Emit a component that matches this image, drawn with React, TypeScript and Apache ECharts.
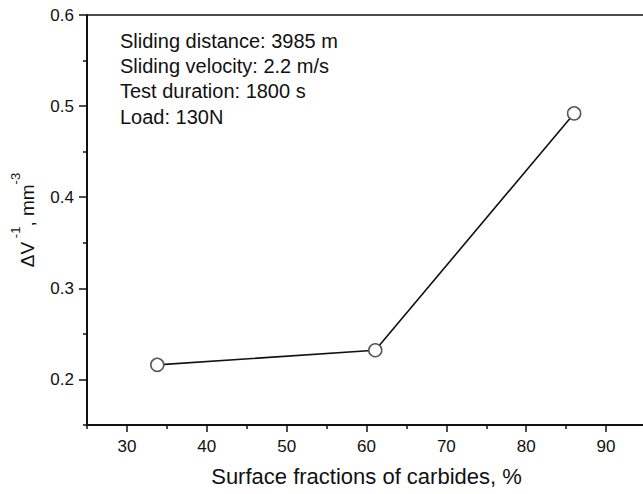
import React, { useEffect, useRef } from "react";
import * as echarts from "echarts";

const carbideFraction = [33.8, 61.1, 86.0];
const inverseWear = [0.216, 0.232, 0.492];
const xMajorTicks = [30, 40, 50, 60, 70, 80, 90];
const xMinorTicks = [25, 35, 45, 55, 65, 75, 85, 95];
const yMajorTicks = [0.2, 0.3, 0.4, 0.5, 0.6];
const yMinorTicks = [0.15, 0.25, 0.35, 0.45, 0.55];
const annotationLines = [
  "Sliding distance: 3985 m",
  "Sliding velocity: 2.2 m/s",
  "Test duration: 1800 s",
  "Load: 130N",
];

const FONT = "'Liberation Sans', Arial, Helvetica, sans-serif";
const INK = "#111";

export default function App() {
  const ref = useRef<HTMLDivElement>(null);
  useEffect(() => {
    if (!ref.current) return;
    const chart = echarts.init(ref.current, null, { renderer: "svg" });
    const X_MIN = 25, X_MAX = 95, Y_MIN = 0.15, Y_MAX = 0.6;
    const GRID_W = 559, GRID_H = 410;
    const hiddenLine = { show: false, lineStyle: { color: "rgba(0,0,0,0)", width: 0 } };
    chart.setOption({
      animation: false,
      backgroundColor: "#fff",
      textStyle: { fontFamily: FONT },
      grid: {
        left: 87,
        top: 15,
        width: GRID_W,
        height: GRID_H,
        containLabel: false,
        outerBoundsMode: "none",
        show: false,
      },
      xAxis: [
        {
          type: "value",
          min: X_MIN,
          max: X_MAX,
          position: "bottom",
          axisLine: { show: true, onZero: false, lineStyle: { color: INK, width: 2 } },
          splitLine: { show: false },
          name: "Surface fractions of carbides, %",
          nameLocation: "middle",
          nameGap: 40,
          nameTextStyle: { fontSize: 22, color: INK, fontFamily: FONT },
          axisTick: {
            show: true,
            customValues: xMajorTicks,
            length: 7,
            lineStyle: { color: INK, width: 1.5 },
          },
          axisLabel: {
            customValues: xMajorTicks,
            margin: 13,
            fontSize: 17,
            color: INK,
            fontFamily: FONT,
          },
        },
        {
          type: "value",
          min: X_MIN,
          max: X_MAX,
          position: "top",
          offset: -GRID_H,
          axisLine: hiddenLine,
          splitLine: { show: false },
          axisTick: {
            show: true,
            inside: true,
            customValues: xMinorTicks,
            length: 4,
            lineStyle: { color: INK, width: 1.5 },
          },
          axisLabel: { show: false },
        },
      ],
      yAxis: [
        {
          type: "value",
          min: Y_MIN,
          max: Y_MAX,
          position: "left",
          axisLine: { show: true, onZero: false, lineStyle: { color: INK, width: 2 } },
          splitLine: { show: false },
          name: "{a|ΔV}{s| -1}{a|, mm}{s|-3}",
          nameLocation: "middle",
          nameRotate: 90,
          nameGap: 50,
          nameTextStyle: {
            color: INK,
            fontFamily: FONT,
            rich: {
              a: { fontSize: 19, color: INK, fontFamily: FONT, lineHeight: 28, verticalAlign: "bottom" },
              s: { fontSize: 13, color: INK, fontFamily: FONT, lineHeight: 28, verticalAlign: "top" },
            },
          },
          axisTick: {
            show: true,
            customValues: yMajorTicks,
            length: 8,
            lineStyle: { color: INK, width: 1.5 },
          },
          axisLabel: {
            customValues: yMajorTicks,
            margin: 13,
            fontSize: 17,
            color: INK,
            fontFamily: FONT,
            formatter: (v: number) => v.toFixed(1),
          },
        },
        {
          type: "value",
          min: Y_MIN,
          max: Y_MAX,
          position: "right",
          offset: -GRID_W,
          axisLine: hiddenLine,
          splitLine: { show: false },
          axisTick: {
            show: true,
            inside: true,
            customValues: yMinorTicks,
            length: 4,
            lineStyle: { color: INK, width: 1.5 },
          },
          axisLabel: { show: false },
        },
      ],
      graphic: [
        {
          type: "text",
          left: 120,
          top: 28,
          style: {
            text: annotationLines.join("\n"),
            font: `20px ${FONT}`,
            lineHeight: 25.3,
            fill: INK,
          },
        },
      ],
      series: [
        {
          type: "line",
          xAxisIndex: 0,
          yAxisIndex: 0,
          data: carbideFraction.map((x, i) => [x, inverseWear[i]]),
          symbol: "circle",
          symbolSize: 13,
          showAllSymbol: true,
          lineStyle: { color: INK, width: 1.6 },
          itemStyle: { color: "#fff", borderColor: "#555", borderWidth: 1.5 },
          z: 3,
          markLine: {
            silent: true,
            symbol: ["none", "none"],
            label: { show: false },
            lineStyle: { color: INK, width: 1.6, type: "solid" },
            data: [{ yAxis: Y_MAX }],
          },
        },
      ],
    });
    return () => chart.dispose();
  }, []);
  return (
    <div
      ref={ref}
      style={{ position: "fixed", left: 0, top: 0, width: 670, height: 494 }}
    />
  );
}
